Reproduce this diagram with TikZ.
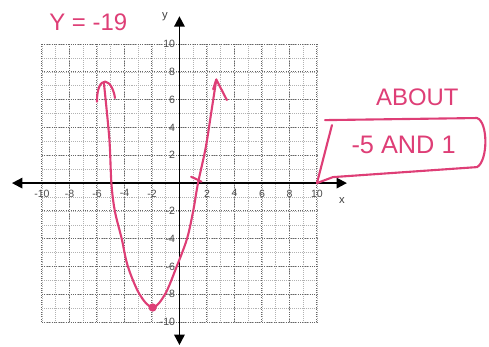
\documentclass[tikz,border=0pt]{standalone}
\usepackage{fontspec}
\setmainfont{Liberation Sans}
\usetikzlibrary{arrows.meta}
\definecolor{ink}{RGB}{222,62,118}
\tikzset{
  minorgrid/.style={gray!60,densely dotted,line width=0.4pt},
  majorgrid/.style={black!60,densely dotted,line width=0.7pt},
  axisline/.style={line width=1.3pt,
    {Triangle[length=2.6mm,width=2.6mm]}-{Triangle[length=2.6mm,width=2.6mm]}},
  ticklab/.style={font=\fontsize{7.5}{8}\selectfont,text=black!70,inner sep=1pt},
  axislab/.style={font=\fontsize{8}{9}\selectfont,text=black!75},
  % pink pen of the hand-written answer
  pen/.style={ink,line width=1.5pt,line cap=round,line join=round},
  hand/.style={ink,font=\fontsize{17}{19}\selectfont}
}
\begin{document}
\begin{tikzpicture}[x=0.34375cm,y=0.3475cm]
 \useasboundingbox (-13.05,-11.73) rectangle (22.51,13.17);
 % graph paper
 \foreach \k in {-10,...,10} {
   \draw[minorgrid] (\k,-10) -- (\k,10);
   \draw[minorgrid] (-10,\k) -- (10,\k);
 }
 \foreach \k in {-10,-8,...,10} {
   \draw[majorgrid] (\k,-10) -- (\k,10);
   \draw[majorgrid] (-10,\k) -- (10,\k);
 }
 % axes
 \draw[axisline] (-12.18,0) -- (12.18,0);
 \draw[axisline] (0,-11.65) -- (0,12.0);
 \node[axislab] (xlab) at (11.82,-1.22) {x};
 \node[axislab] (ylab) at (-1.05,11.94) {y};
 \foreach \k in {-10,-8,-6,-4,-2,2,4,6,8,10} {
   \node[ticklab,anchor=north] (xt\k) at (\k,-0.35) {\k};
   \node[ticklab,anchor=east] (yt\k) at (-0.2,\k) {\k};
 }
 % the parabola drawn by hand
 \draw[pen] plot[smooth,tension=0.55] coordinates {(-5.5,7.25) (-5.1,3.2)
   (-4.95,0) (-4.7,-2) (-4.2,-4) (-3.75,-6) (-2.9,-8) (-1.95,-8.95) (-1.05,-8)
   (-0.2,-6) (0.55,-4) (1.0,-2) (1.35,0) (1.9,2.5) (2.3,5) (2.68,7.45)};
 \draw[pen] (-6.0,5.85) .. controls (-6.0,6.8) and (-5.75,7.3) .. (-5.4,7.3)
   .. controls (-5.0,7.25) and (-4.75,6.6) .. (-4.69,6.12);
 \draw[pen] (2.45,6.75) -- (2.68,7.45) -- (3.45,5.97);
 \fill[ink] (-1.95,-8.95) circle (0.3);
 \draw[pen] (0.85,0.45) -- (1.2,0.3) -- (1.6,0.1);
 % notes
 \node[hand] (yval) at (-6.63,11.6) {Y = -19};
 \node[hand] (about) at (17.3,6.15) {ABOUT};
 \node[hand,font=\fontsize{18}{20}\selectfont] (roots) at (16.3,2.75) {-5 AND 1};
 % callout round the roots
 \draw[pen] (10,0) -- (11.09,4.17);
 \draw[pen] (10.58,4.53) -- (21.64,4.68) .. controls (22.45,4.4) and (22.45,1.6) .. (21.64,1.15)
   -- (11.16,0.43) -- (10,0);
\end{tikzpicture}
\end{document}
